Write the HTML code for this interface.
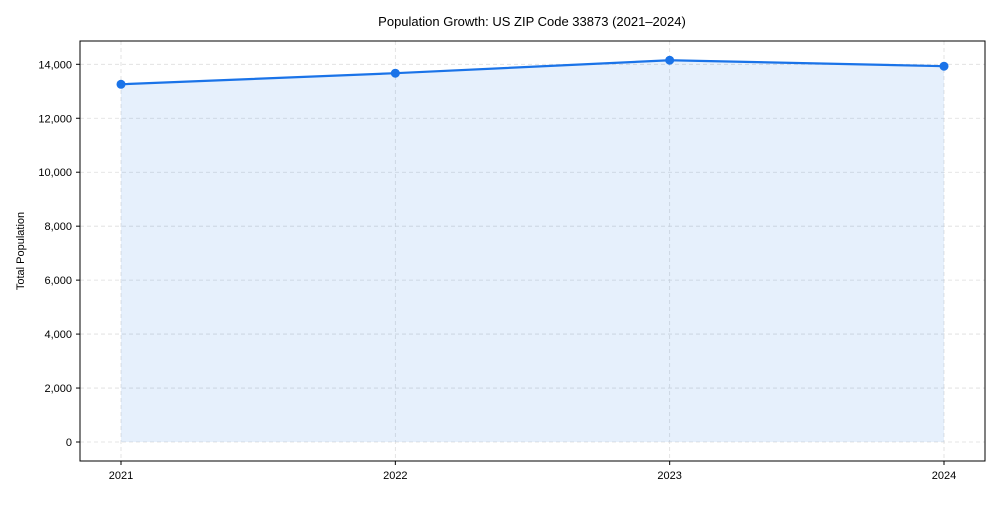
<!DOCTYPE html>
<html><head><meta charset="utf-8"><style>
body{margin:0;background:#fff;font-family:"Liberation Sans",sans-serif}
svg text{font-family:"Liberation Sans",sans-serif;fill:#000}
</style></head><body>
<svg id="chart" width="1000" height="500">
<text x="532" y="26" font-size="13" text-anchor="middle">Population Growth: US ZIP Code 33873 (2021–2024)</text>
<text transform="translate(24,251) rotate(-90)" font-size="11" text-anchor="middle">Total Population</text>
<g id="grid"></g><g id="marks"></g><g id="axes"></g>
<rect x="80" y="41" width="905" height="420" fill="none" stroke="#000" stroke-width="1"/>
</svg>
<script>
const years=["2021","2022","2023","2024"];
const population=[13260,13670,14150,13930];
const yTicks=[0,2000,4000,6000,8000,10000,12000,14000];
const NS="http://www.w3.org/2000/svg";
function xS(i){return 121+i*(944-121)/(years.length-1);}
function yS(v){return 442-v*(442-64.3)/14000;}
function mk(tag,attrs,parent){const e=document.createElementNS(NS,tag);for(const k in attrs)e.setAttribute(k,attrs[k]);document.getElementById(parent).appendChild(e);return e;}
yTicks.forEach(t=>{
  const g=mk('line',{x1:80,x2:985,y1:yS(t),y2:yS(t),stroke:'#ddd','stroke-dasharray':'4,3','stroke-width':0.8},'grid');
  
  
  mk('line',{x1:76,x2:80,y1:yS(t),y2:yS(t),stroke:'#000'},'axes');
  const tx=mk('text',{x:72,y:yS(t)+4,'font-size':11,'text-anchor':'end'},'axes');
  tx.textContent=t.toLocaleString('en-US');
  
  
});
years.forEach((y,i)=>{
  const g=mk('line',{x1:xS(i),x2:xS(i),y1:41,y2:461,stroke:'#ddd','stroke-dasharray':'4,3','stroke-width':0.8},'grid');
  
  
  mk('line',{x1:xS(i),x2:xS(i),y1:461,y2:465,stroke:'#000'},'axes');
  const tx=mk('text',{x:xS(i),y:479,'font-size':11,'text-anchor':'middle'},'axes');
  tx.textContent=y;
  
  
});
let d='M'+xS(0)+','+yS(0);
population.forEach((v,i)=>{d+=' L'+xS(i)+','+yS(v);});
d+=' L'+xS(population.length-1)+','+yS(0)+' Z';
const area=mk('path',{d:d,fill:'#1a73e8','fill-opacity':0.11,stroke:'none'},'marks');


const line=mk('polyline',{points:population.map((v,i)=>xS(i)+','+yS(v)).join(' '),fill:'none',stroke:'#1a73e8','stroke-width':2.2},'marks');


population.forEach((v,i)=>{
  const c=mk('circle',{cx:xS(i),cy:yS(v),r:4.5,fill:'#1a73e8'},'marks');
  
  
});
</script>
</body></html>
